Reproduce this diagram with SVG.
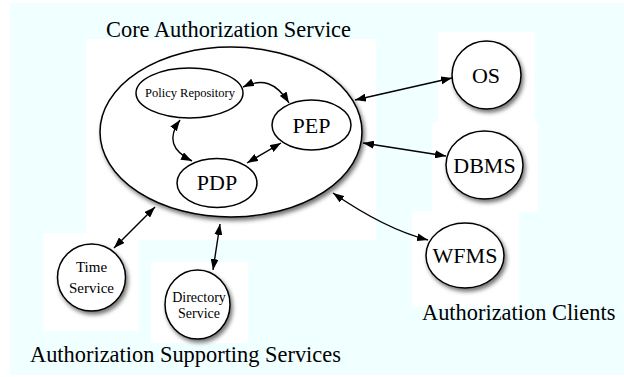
<svg xmlns="http://www.w3.org/2000/svg" width="624" height="377" viewBox="0 0 624 377">
<defs>
<style>
.bg{fill:#f0ffff}
.wb{fill:#ffffff}
.n{fill:#ffffff;stroke:#000;stroke-width:1.5;filter:url(#sh)}
.t{font-family:"Liberation Serif","Times New Roman",serif;fill:#000;text-anchor:middle}
.lbl{font-family:"Liberation Serif","Times New Roman",serif;fill:#000;font-size:22.4px}
.c{fill:none;stroke:#000;stroke-width:1.4;marker-start:url(#ah);marker-end:url(#ah)}
</style>
<filter id="sh" x="-20%" y="-20%" width="150%" height="150%">
<feDropShadow dx="2" dy="3" stdDeviation="2" flood-color="#000" flood-opacity="0.55"/>
</filter>
<marker id="ah" markerUnits="userSpaceOnUse" markerWidth="11" markerHeight="8" refX="11" refY="4" orient="auto-start-reverse">
<path d="M0,0 L11,4 L0,8 z" fill="#000"/>
</marker>
</defs>
<rect class="bg" x="10" y="3" width="614" height="372"/>
<g id="backdrops">
<rect class="wb" x="86" y="39" width="290" height="201"/>
<rect class="wb" x="43" y="233" width="96" height="98"/>
<rect class="wb" x="139" y="233" width="12" height="7"/>
<rect class="wb" x="151" y="262" width="97" height="81"/>
<rect class="wb" x="438" y="32" width="97" height="90"/>
<rect class="wb" x="432" y="122" width="106" height="90"/>
<rect class="wb" x="412" y="211" width="107" height="96"/>
</g>
<text class="lbl" x="106" y="37">Core Authorization Service</text>
<text class="lbl" x="30" y="362">Authorization Supporting Services</text>
<text class="lbl" x="422" y="320">Authorization Clients</text>
<g id="core"><ellipse class="n" cx="231" cy="132" rx="131" ry="85"/></g>
<g id="policy-repository"><ellipse class="n" cx="189.5" cy="93" rx="53.5" ry="25" style="filter:none"/><text class="t" x="190" y="97" font-size="12.5">Policy Repository</text></g>
<g id="pep"><ellipse class="n" cx="311.5" cy="125" rx="39.5" ry="25" style="filter:none"/><text class="t" x="311.5" y="133" font-size="22">PEP</text></g>
<g id="pdp"><ellipse class="n" cx="217" cy="183" rx="40" ry="24.5" style="filter:none"/><text class="t" x="217" y="190" font-size="22">PDP</text></g>
<g id="os"><ellipse class="n" cx="486.5" cy="75" rx="34.5" ry="34"/><text class="t" x="486" y="83" font-size="22">OS</text></g>
<g id="dbms"><ellipse class="n" cx="484.5" cy="165" rx="38.5" ry="34"/><text class="t" x="484.5" y="173" font-size="22">DBMS</text></g>
<g id="wfms"><ellipse class="n" cx="465" cy="255.5" rx="39" ry="32.5"/><text class="t" x="465" y="263" font-size="22">WFMS</text></g>
<g id="time-service"><ellipse class="n" cx="91.5" cy="277.5" rx="34" ry="33.5"/><text class="t" x="91.5" y="272" font-size="15">Time</text><text class="t" x="91.5" y="293" font-size="15">Service</text></g>
<g id="directory-service"><ellipse class="n" cx="197.5" cy="304.5" rx="32.5" ry="34.5"/><text class="t" x="199" y="302" font-size="14">Directory</text><text class="t" x="199" y="318" font-size="14">Service</text></g>
<g id="connectors">
<path class="c" d="M243,87 C262,78 276,82 289,103"/>
<path class="c" d="M180,120 C167,138 172,151 192,161"/>
<path class="c" d="M281,143 L247,163"/>
<path class="c" d="M355,100 L452,78"/>
<path class="c" d="M363,143 L446,156"/>
<path class="c" d="M333,193 Q385,229 428,240"/>
<path class="c" d="M155,207 L114,248"/>
<path class="c" d="M220,224 L213,270"/>
</g>
</svg>
